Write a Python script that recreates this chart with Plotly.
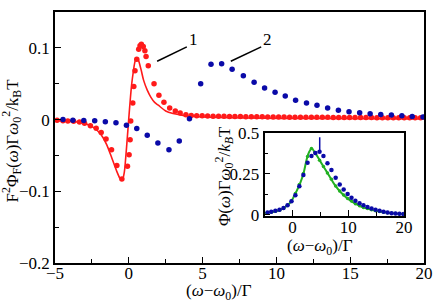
import plotly.graph_objects as go

# ---------------- main panel data ----------------
red_dot_x = [-4.86, -4.46, -4.13, -3.74, -3.34, -3.00, -2.60, -2.21, -1.87, -1.54, -1.17,
             -0.81, -0.47, -0.09, 0.02, 0.09, 0.13, 0.27, 0.34, 0.42, 0.54, 0.67, 0.76,
             0.85, 0.98, 1.09, 1.17, 1.32, 1.71, 2.04, 2.38, 2.77, 3.15, 3.48, 3.87, 4.23,
             4.60, 4.97, 5.34, 5.71, 6.08, 6.45, 6.82, 7.19, 7.56, 7.93, 8.30, 8.67, 9.04,
             9.41, 9.78, 10.15, 10.52, 10.89, 11.26, 11.63, 12.00, 12.37, 12.74, 13.11,
             13.48, 13.85, 14.22, 14.59, 14.96, 15.33, 15.70, 16.07, 16.44, 16.81, 17.18,
             17.55, 17.92, 18.29, 18.66, 19.03, 19.40, 19.77]
red_dot_y = [-0.001, -0.0015, -0.002, -0.0025, -0.0035, -0.005, -0.0085, -0.012, -0.018, -0.027, -0.042,
             -0.064, -0.083, -0.065, -0.049, -0.028, -0.002, 0.023, 0.046, 0.068, 0.084, 0.098, 0.103,
             0.105, 0.102, 0.096, 0.088, 0.075, 0.050, 0.034, 0.024, 0.016, 0.012, 0.009, 0.0067, 0.0058,
             0.0054, 0.0052, 0.0050, 0.0048, 0.0047, 0.0045, 0.0044, 0.0043, 0.0042, 0.0041, 0.0040, 0.0039, 0.0038,
             0.0037, 0.0036, 0.0036, 0.0035, 0.0034, 0.0034, 0.0033, 0.0033, 0.0032, 0.0032, 0.0031,
             0.0031, 0.0030, 0.0030, 0.0030, 0.0029, 0.0029, 0.0028, 0.0028, 0.0028, 0.0027, 0.0027,
             0.0027, 0.0026, 0.0026, 0.0026, 0.0025, 0.0025, 0.0025]

red_line_x = [-5, -4, -3.5, -3, -2.5, -2, -1.75, -1.5, -1.25, -1.0, -0.8, -0.6, -0.5, -0.4,
              -0.3, -0.2, -0.1, 0.0, 0.1, 0.2, 0.3, 0.4, 0.5, 0.6, 0.7, 0.85, 1.0, 1.25,
              1.5, 1.75, 2.0, 2.5, 3.0, 3.5, 4.0, 5.0, 8.0, 12.0, 20.0]
red_line_y = [-0.0015, -0.0025, -0.0035, -0.0055, -0.0095, -0.018, -0.025, -0.035, -0.048,
              -0.062, -0.073, -0.082, -0.084, -0.082, -0.073, -0.051, -0.025, 0.002, 0.028,
              0.050, 0.066, 0.079, 0.086, 0.085, 0.080, 0.068, 0.055, 0.041, 0.031, 0.024,
              0.020, 0.012, 0.0085, 0.0065, 0.005, 0.0035, 0.0022, 0.0015, 0.0008]

blue_x = [-4.46, -3.79, -3.05, -2.31, -1.59, -0.87, -0.16, 0.54, 1.25, 1.97, 2.72, 3.42,
          4.11, 4.87, 5.57, 6.29, 7.00, 7.76, 8.49, 9.20, 9.91, 10.60, 11.30, 12.04,
          12.75, 13.47, 14.20, 14.92, 15.64, 16.35, 17.07, 17.79, 18.50, 19.20, 19.93]
blue_main_y = [0.0, -0.001, -0.0013, -0.0017, -0.003, -0.0045, -0.0078, -0.0125, -0.022,
               -0.0326, -0.042, -0.030, 0.001, 0.050, 0.077, 0.078, 0.070, 0.061, 0.052,
               0.044, 0.038, 0.033, 0.027, 0.023, 0.020, 0.016, 0.013, 0.011, 0.0094,
               0.008, 0.0071, 0.0063, 0.0054, 0.0044, 0.0036]

# leader lines and labels "1", "2"
label_text = ["1", "2"]
label_x = [4.38, 9.42]
label_y = [0.111, 0.111]
leader_x0 = [1.92, 6.91]
leader_y0 = [0.0813, 0.0813]
leader_x1 = [3.93, 8.97]
leader_y1 = [0.1013, 0.1013]

# ---------------- inset data ----------------
blue_inset_y = [0.014, 0.018, 0.024, 0.030, 0.042, 0.058, 0.082, 0.120, 0.175, 0.243,
                0.318, 0.360, 0.378, 0.386, 0.360, 0.316, 0.274, 0.226, 0.185, 0.155,
                0.127, 0.104, 0.086, 0.070, 0.058, 0.048, 0.038, 0.030, 0.024, 0.018,
                0.014, 0.010, 0.008, 0.006, 0.004]
green_dot_y = [0.012, 0.016, 0.021, 0.028, 0.040, 0.058, 0.085, 0.130, 0.185, 0.252,
               0.356, 0.405, 0.380, 0.334, 0.296, 0.256, 0.217, 0.176, 0.146, 0.121,
               0.099, 0.084, 0.067, 0.055, 0.045, 0.038, 0.030, 0.025, 0.020, 0.016,
               0.013, 0.010, 0.008, 0.006, 0.004]
green_line_x = [-5, -4.6, -2.4, -1.2, -0.3, 0.3, 0.6, 1.4, 2.0, 2.6, 3.0, 3.45, 4.0, 4.9,
                5.8, 6.7, 7.6, 8.8, 10.0, 11.2, 12.4, 14.2, 16.0, 17.7, 20.0]
green_line_y = [0.011, 0.012, 0.028, 0.050, 0.078, 0.114, 0.134, 0.194, 0.254, 0.344,
                0.384, 0.405, 0.384, 0.333, 0.283, 0.233, 0.183, 0.133, 0.097, 0.069,
                0.049, 0.030, 0.018, 0.010, 0.004]
marker_line_x = [4.9, 4.9]
marker_line_y = [0.385, 0.475]

RED = "#ff1a1a"
BLUE = "#0a0aa8"
GREEN = "#22b022"
FONT = "Liberation Serif"

fig = go.Figure()
fig.add_trace(go.Scatter(x=red_line_x, y=red_line_y, mode="lines", line=dict(color=RED, width=1.6, shape="spline", smoothing=0.8),
                         xaxis="x", yaxis="y", showlegend=False, hoverinfo="skip"))
fig.add_trace(go.Scatter(x=red_dot_x, y=red_dot_y, mode="markers", marker=dict(color=RED, size=5.5),
                         xaxis="x", yaxis="y", showlegend=False))
fig.add_trace(go.Scatter(x=blue_x, y=blue_main_y, mode="markers", marker=dict(color=BLUE, size=5.5),
                         xaxis="x", yaxis="y", showlegend=False))

for i in range(2):
    fig.add_trace(go.Scatter(x=[leader_x0[i], leader_x1[i]], y=[leader_y0[i], leader_y1[i]], mode="lines",
                             line=dict(color="black", width=1.5), xaxis="x", yaxis="y", showlegend=False))

# inset
fig.add_trace(go.Scatter(x=green_line_x, y=green_line_y, mode="lines", line=dict(color=GREEN, width=2, shape="spline"),
                         xaxis="x2", yaxis="y2", showlegend=False))
fig.add_trace(go.Scatter(x=blue_x, y=green_dot_y, mode="markers", marker=dict(color=GREEN, size=3.5),
                         xaxis="x2", yaxis="y2", showlegend=False))
fig.add_trace(go.Scatter(x=blue_x, y=blue_inset_y, mode="markers", marker=dict(color=BLUE, size=4.5),
                         xaxis="x2", yaxis="y2", showlegend=False))
fig.add_trace(go.Scatter(x=marker_line_x, y=marker_line_y, mode="lines", line=dict(color=BLUE, width=1.5),
                         xaxis="x2", yaxis="y2", showlegend=False))

axis_common = dict(showline=True, mirror=True, linecolor="black", linewidth=1.5, showgrid=False, zeroline=False,
                   ticks="inside", tickcolor="black", tickwidth=1.3, ticklen=6,
                   tickfont=dict(family=FONT, size=17, color="black"))

annotations = []
for t, x, y in zip(label_text, label_x, label_y):
    annotations.append(dict(x=x, y=y, xref="x", yref="y", text=t, showarrow=False,
                            font=dict(family=FONT, size=17, color="black"), xanchor="center", yanchor="middle"))

annotations += [
    dict(x=0.444, y=-0.116, xref="paper", yref="paper", text="(<i>ω</i>−<i>ω</i><sub>0</sub>)/Γ", showarrow=False,
         font=dict(family=FONT, size=17, color="black"), xanchor="center", yanchor="middle"),
    dict(x=-0.118, y=0.49, xref="paper", yref="paper", textangle=-90,
         text="F<sup>2</sup>Φ<sub>F</sub>(<i>ω</i>)Γ<i>ω</i><sub>0</sub><sup>2</sup>/k<sub>B</sub>T", showarrow=False,
         font=dict(family=FONT, size=17, color="black"), xanchor="center", yanchor="middle"),
    dict(x=0.7173, y=0.063, xref="paper", yref="paper", text="(<i>ω</i>−<i>ω</i><sub>0</sub>)/Γ", showarrow=False,
         font=dict(family=FONT, size=17, color="black"), xanchor="center", yanchor="middle"),
    dict(x=0.4577, y=0.3457, xref="paper", yref="paper", textangle=-90,
         text="Φ(<i>ω</i>)Γ<i>ω</i><sub>0</sub><sup>2</sup>/<i>k</i><sub><i>B</i></sub>T", showarrow=False,
         font=dict(family=FONT, size=17, color="black"), xanchor="center", yanchor="middle"),
]

fig.update_layout(
    width=436, height=302,
    margin=dict(l=55, r=9, t=3, b=39),
    paper_bgcolor="white", plot_bgcolor="white",
    font=dict(family=FONT, size=17, color="black"),
    xaxis=dict(domain=[0, 1], range=[-5, 20], anchor="y", ticklabelstandoff=-6,
               tickvals=[-5, 0, 5, 10, 15, 20], ticktext=["−5", "0", "5", "10", "15", "20"],
               minor=dict(dtick=2.5, tick0=0, ticks="inside", ticklen=4, tickwidth=1.3, tickcolor="black"),
               **axis_common),
    yaxis=dict(domain=[0, 1], range=[-0.2, 0.15], anchor="x",
               tickvals=[-0.2, -0.1, 0, 0.1], ticktext=["−0.2", "−0.1", "0", "0.1"],
               minor=dict(dtick=0.05, tick0=0, ticks="inside", ticklen=4, tickwidth=1.3, tickcolor="black"),
               **axis_common),
    xaxis2=dict(domain=[0.5678, 0.9455], range=[-5, 20], anchor="y2", ticklabelstandoff=-5,
                tickvals=[0, 10, 20], ticktext=["0", "10", "20"],
                minor=dict(dtick=5, tick0=0, ticks="inside", ticklen=4, tickwidth=1.3, tickcolor="black"),
                **axis_common),
    yaxis2=dict(domain=[0.187, 0.5175], range=[-0.008, 0.5], anchor="x2",
                tickvals=[0, 0.25, 0.5], ticktext=["0", "0.25", "0.5"],
                minor=dict(dtick=0.125, tick0=0, ticks="inside", ticklen=4, tickwidth=1.3, tickcolor="black"),
                **axis_common),
    annotations=annotations,
    shapes=[dict(type="rect", xref="x2 domain", yref="y2 domain", x0=0, x1=1, y0=0, y1=1,
                 fillcolor="white", line=dict(width=0), layer="below")],
)

fig.write_html("out.html", config={"displayModeBar": False},
               post_script="document.body.style.margin='0';document.body.style.padding='0';")
